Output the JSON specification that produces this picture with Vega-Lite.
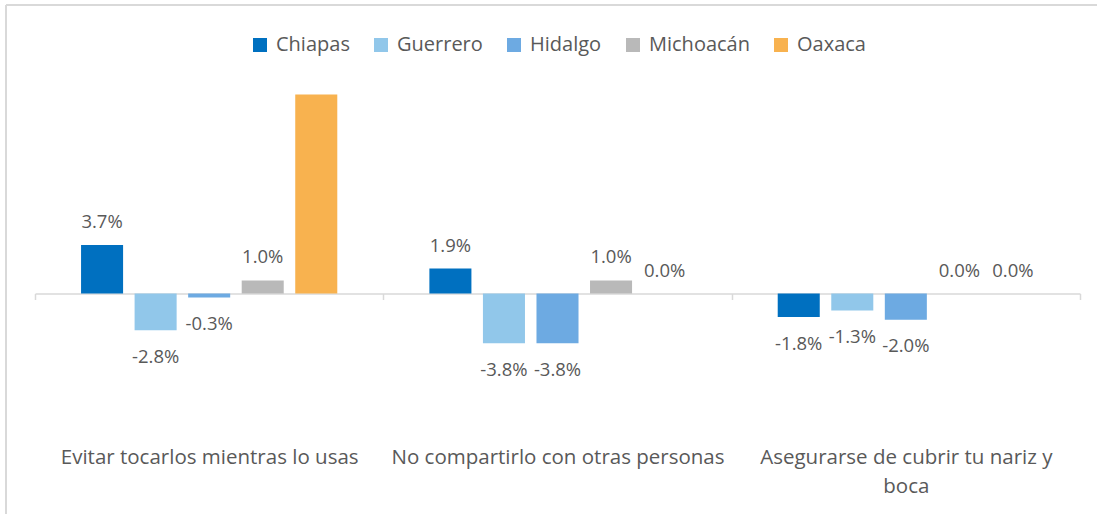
{
  "$schema": "https://vega.github.io/schema/vega-lite/v6.json",
  "width": 1091,
  "height": 509,
  "autosize": {"type": "none"},
  "padding": {"left": 6, "top": 5, "right": 0, "bottom": 0},
  "background": "white",
  "config": {
    "view": {"stroke": "#d9d9d9", "strokeWidth": 2, "strokeDash": [1091, 1600, 509, 0]},
    "font": "Open Sans"
  },
  "data": {
    "values": [
      {"categoria": "Evitar tocarlos mientras lo usas", "estado": "Chiapas", "valor": 0.037},
      {"categoria": "Evitar tocarlos mientras lo usas", "estado": "Guerrero", "valor": -0.028},
      {"categoria": "Evitar tocarlos mientras lo usas", "estado": "Hidalgo", "valor": -0.003},
      {"categoria": "Evitar tocarlos mientras lo usas", "estado": "Michoacán", "valor": 0.010},
      {"categoria": "Evitar tocarlos mientras lo usas", "estado": "Oaxaca", "valor": 0.152},
      {"categoria": "No compartirlo con otras personas", "estado": "Chiapas", "valor": 0.019},
      {"categoria": "No compartirlo con otras personas", "estado": "Guerrero", "valor": -0.038},
      {"categoria": "No compartirlo con otras personas", "estado": "Hidalgo", "valor": -0.038},
      {"categoria": "No compartirlo con otras personas", "estado": "Michoacán", "valor": 0.010},
      {"categoria": "No compartirlo con otras personas", "estado": "Oaxaca", "valor": 0.000},
      {"categoria": "Asegurarse de cubrir tu nariz y boca", "estado": "Chiapas", "valor": -0.018},
      {"categoria": "Asegurarse de cubrir tu nariz y boca", "estado": "Guerrero", "valor": -0.013},
      {"categoria": "Asegurarse de cubrir tu nariz y boca", "estado": "Hidalgo", "valor": -0.020},
      {"categoria": "Asegurarse de cubrir tu nariz y boca", "estado": "Michoacán", "valor": 0.000},
      {"categoria": "Asegurarse de cubrir tu nariz y boca", "estado": "Oaxaca", "valor": 0.000}
    ]
  },
  "encoding": {
    "x": {
      "field": "categoria",
      "type": "nominal",
      "sort": null,
      "scale": {"range": [29, 1074], "paddingInner": 0, "paddingOuter": 0},
      "axis": {
        "title": null,
        "orient": "bottom",
        "offset": -220.5,
        "labelAngle": 0,
        "domainColor": "#d9d9d9",
        "domainWidth": 1.5,
        "tickColor": "#d9d9d9",
        "tickWidth": 1.5,
        "tickSize": 6,
        "tickBand": "extent",
        "labelPadding": 148,
        "labelFontSize": 20.5,
        "labelColor": "#595959",
        "labelLimit": 400,
        "labelLineHeight": 29,
        "labelExpr": "datum.label == 'Asegurarse de cubrir tu nariz y boca' ? ['Asegurarse de cubrir tu nariz y', 'boca'] : datum.label"
      }
    },
    "xOffset": {
      "field": "estado",
      "type": "nominal",
      "sort": ["Chiapas", "Guerrero", "Hidalgo", "Michoacán", "Oaxaca"],
      "scale": {"paddingInner": 0.215, "paddingOuter": 0.86}
    },
    "y": {
      "field": "valor",
      "type": "quantitative",
      "scale": {"domain": [-0.2, 0.2], "range": [550.5, 26.5], "nice": false, "zero": true},
      "axis": null
    }
  },
  "layer": [
    {
      "mark": {"type": "bar"},
      "encoding": {
        "color": {
          "field": "estado",
          "type": "nominal",
          "sort": ["Chiapas", "Guerrero", "Hidalgo", "Michoacán", "Oaxaca"],
          "scale": {
            "domain": ["Chiapas", "Guerrero", "Hidalgo", "Michoacán", "Oaxaca"],
            "range": ["#0070C0", "#91C7EA", "#6DAAE2", "#B9B9B9", "#F8B24F"]
          },
          "legend": {
            "title": null,
            "orient": "none",
            "direction": "horizontal",
            "legendX": 244,
            "legendY": 30,
            "symbolType": "square",
            "symbolSize": 196,
            "symbolStrokeWidth": 0,
            "labelFontSize": 20,
            "labelColor": "#595959",
            "labelOffset": 6,
            "columnPadding": 21
          }
        }
      }
    },
    {
      "transform": [{"filter": "datum.valor >= 0 && datum.valor < 0.1"}],
      "mark": {"type": "text", "dy": -23, "baseline": "middle", "fontSize": 18.5, "color": "#595959", "text": {"expr": "replace(format(datum.valor, '.1%'), '\u2212', '-')"}}
    },
    {
      "transform": [{"filter": "datum.valor < 0"}],
      "mark": {"type": "text", "dy": 26.5, "baseline": "middle", "fontSize": 18.5, "color": "#595959", "text": {"expr": "replace(format(datum.valor, '.1%'), '\u2212', '-')"}}
    }
  ]
}
